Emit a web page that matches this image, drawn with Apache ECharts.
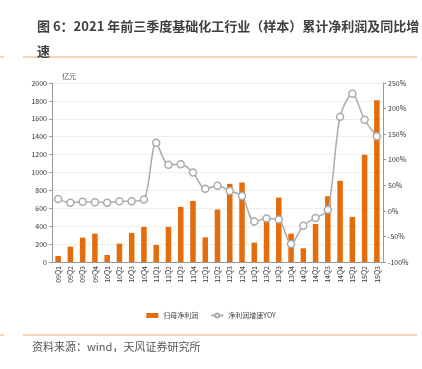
<!DOCTYPE html>
<html>
<head>
<meta charset="utf-8">
<script src="https://cdn.jsdelivr.net/npm/echarts@6/dist/echarts.min.js"></script>
<style>
  html, body { margin: 0; padding: 0; background: #fff; }
  #chart { width: 422px; height: 369px; }
</style>
</head>
<body>
<div id="chart"></div>
<script>
// 季度标签
const quarters = ['09Q1','09Q2','09Q3','09Q4','10Q1','10Q2','10Q3','10Q4','11Q1','11Q2','11Q3','11Q4',
  '12Q1','12Q2','12Q3','12Q4','13Q1','13Q2','13Q3','13Q4','14Q1','14Q2','14Q3','14Q4','15Q1','15Q2','15Q3'];
// 归母净利润（亿元）
const netProfit = [67, 172, 272, 317, 78, 205, 325, 392, 190, 392, 616, 683,
  276, 586, 873, 888, 216, 466, 720, 317, 153, 425, 735, 907, 504, 1198, 1806];
// 净利润增速 YOY（%）
const yoy = [23, 16, 18, 17, 16, 19, 19, 22, 133, 90, 91, 75,
  43, 49, 39, 29, -21, -15, -17, -65, -29, -14, 2, 184, 229, 178, 146];

const C_BAR = '#E46C0A';
const C_LINE = '#ABABAB';
const C_RULE = '#F5AA6E';

const chart = echarts.init(document.getElementById('chart'));
chart.setOption({
  animation: false,
  textStyle: { fontFamily: '"Noto Sans CJK SC", "Liberation Sans", sans-serif' },
  title: {
    text: '图 6：2021 年前三季度基础化工行业（样本）累计净利润及同比增\n速',
    left: 32, top: 9,
    textStyle: { fontSize: 13, fontWeight: 'bold', color: '#404040', lineHeight: 25 },
  },
  graphic: [
    { type: 'line', shape: { x1: 0, y1: 57, x2: 4, y2: 57 }, style: { stroke: C_RULE, lineWidth: 1 } },
    { type: 'line', shape: { x1: 23, y1: 57, x2: 417, y2: 57 }, style: { stroke: C_RULE, lineWidth: 1 } },
    { type: 'line', shape: { x1: 0, y1: 335, x2: 4, y2: 335 }, style: { stroke: C_RULE, lineWidth: 1 } },
    { type: 'line', shape: { x1: 23, y1: 335, x2: 417, y2: 335 }, style: { stroke: C_RULE, lineWidth: 1 } },
    { type: 'text', left: 32, top: 341, style: { text: '资料来源：wind，天风证券研究所', fontSize: 11, fill: '#555',
      fontFamily: '"Noto Sans CJK SC", sans-serif' } },
    { type: 'text', left: 62, top: 73, style: { text: '亿元', fontSize: 7, fill: '#555',
      fontFamily: '"Noto Sans CJK SC", sans-serif' } },
  ],
  legend: {
    bottom: 45, left: 'center',
    itemWidth: 12, itemHeight: 5, itemGap: 12,
    textStyle: { fontSize: 7, color: '#444' },
    data: [
      { name: '归母净利润', icon: 'rect' },
      { name: '净利润增速YOY' },
    ],
  },
  grid: { left: 52, right: 39, top: 83, bottom: 107 },
  xAxis: {
    type: 'category', data: quarters,
    axisLine: { lineStyle: { color: '#999' } },
    axisTick: { lineStyle: { color: '#999' }, length: 3 },
    axisLabel: { rotate: 90, fontSize: 7, color: '#333', margin: 4, interval: 0 },
  },
  yAxis: [
    {
      type: 'value', min: 0, max: 2000, interval: 200,
      axisLine: { show: true, lineStyle: { color: '#999' } },
      axisTick: { show: true, length: 3, lineStyle: { color: '#999' } },
      axisLabel: { fontSize: 7, color: '#333', margin: 5, formatter: v => String(v) },
      splitLine: { lineStyle: { color: '#eeeeee' } },
    },
    {
      type: 'value', min: -100, max: 250, interval: 50,
      axisLine: { show: true, lineStyle: { color: '#999' } },
      axisTick: { show: true, length: 3, lineStyle: { color: '#999' } },
      axisLabel: { fontSize: 7, color: '#333', margin: 5, formatter: '{value}%' },
      splitLine: { show: false },
    },
  ],
  series: [
    {
      name: '归母净利润', type: 'bar', yAxisIndex: 0, data: netProfit,
      barWidth: '45%', itemStyle: { color: C_BAR },
    },
    {
      name: '净利润增速YOY', type: 'line', yAxisIndex: 1, data: yoy,
      smooth: 0.3, symbol: 'circle', symbolSize: 7,
      lineStyle: { color: C_LINE, width: 1.5 },
      itemStyle: { color: '#fff', borderColor: C_LINE, borderWidth: 1.5 },
    },
  ],
});
</script>
</body>
</html>
